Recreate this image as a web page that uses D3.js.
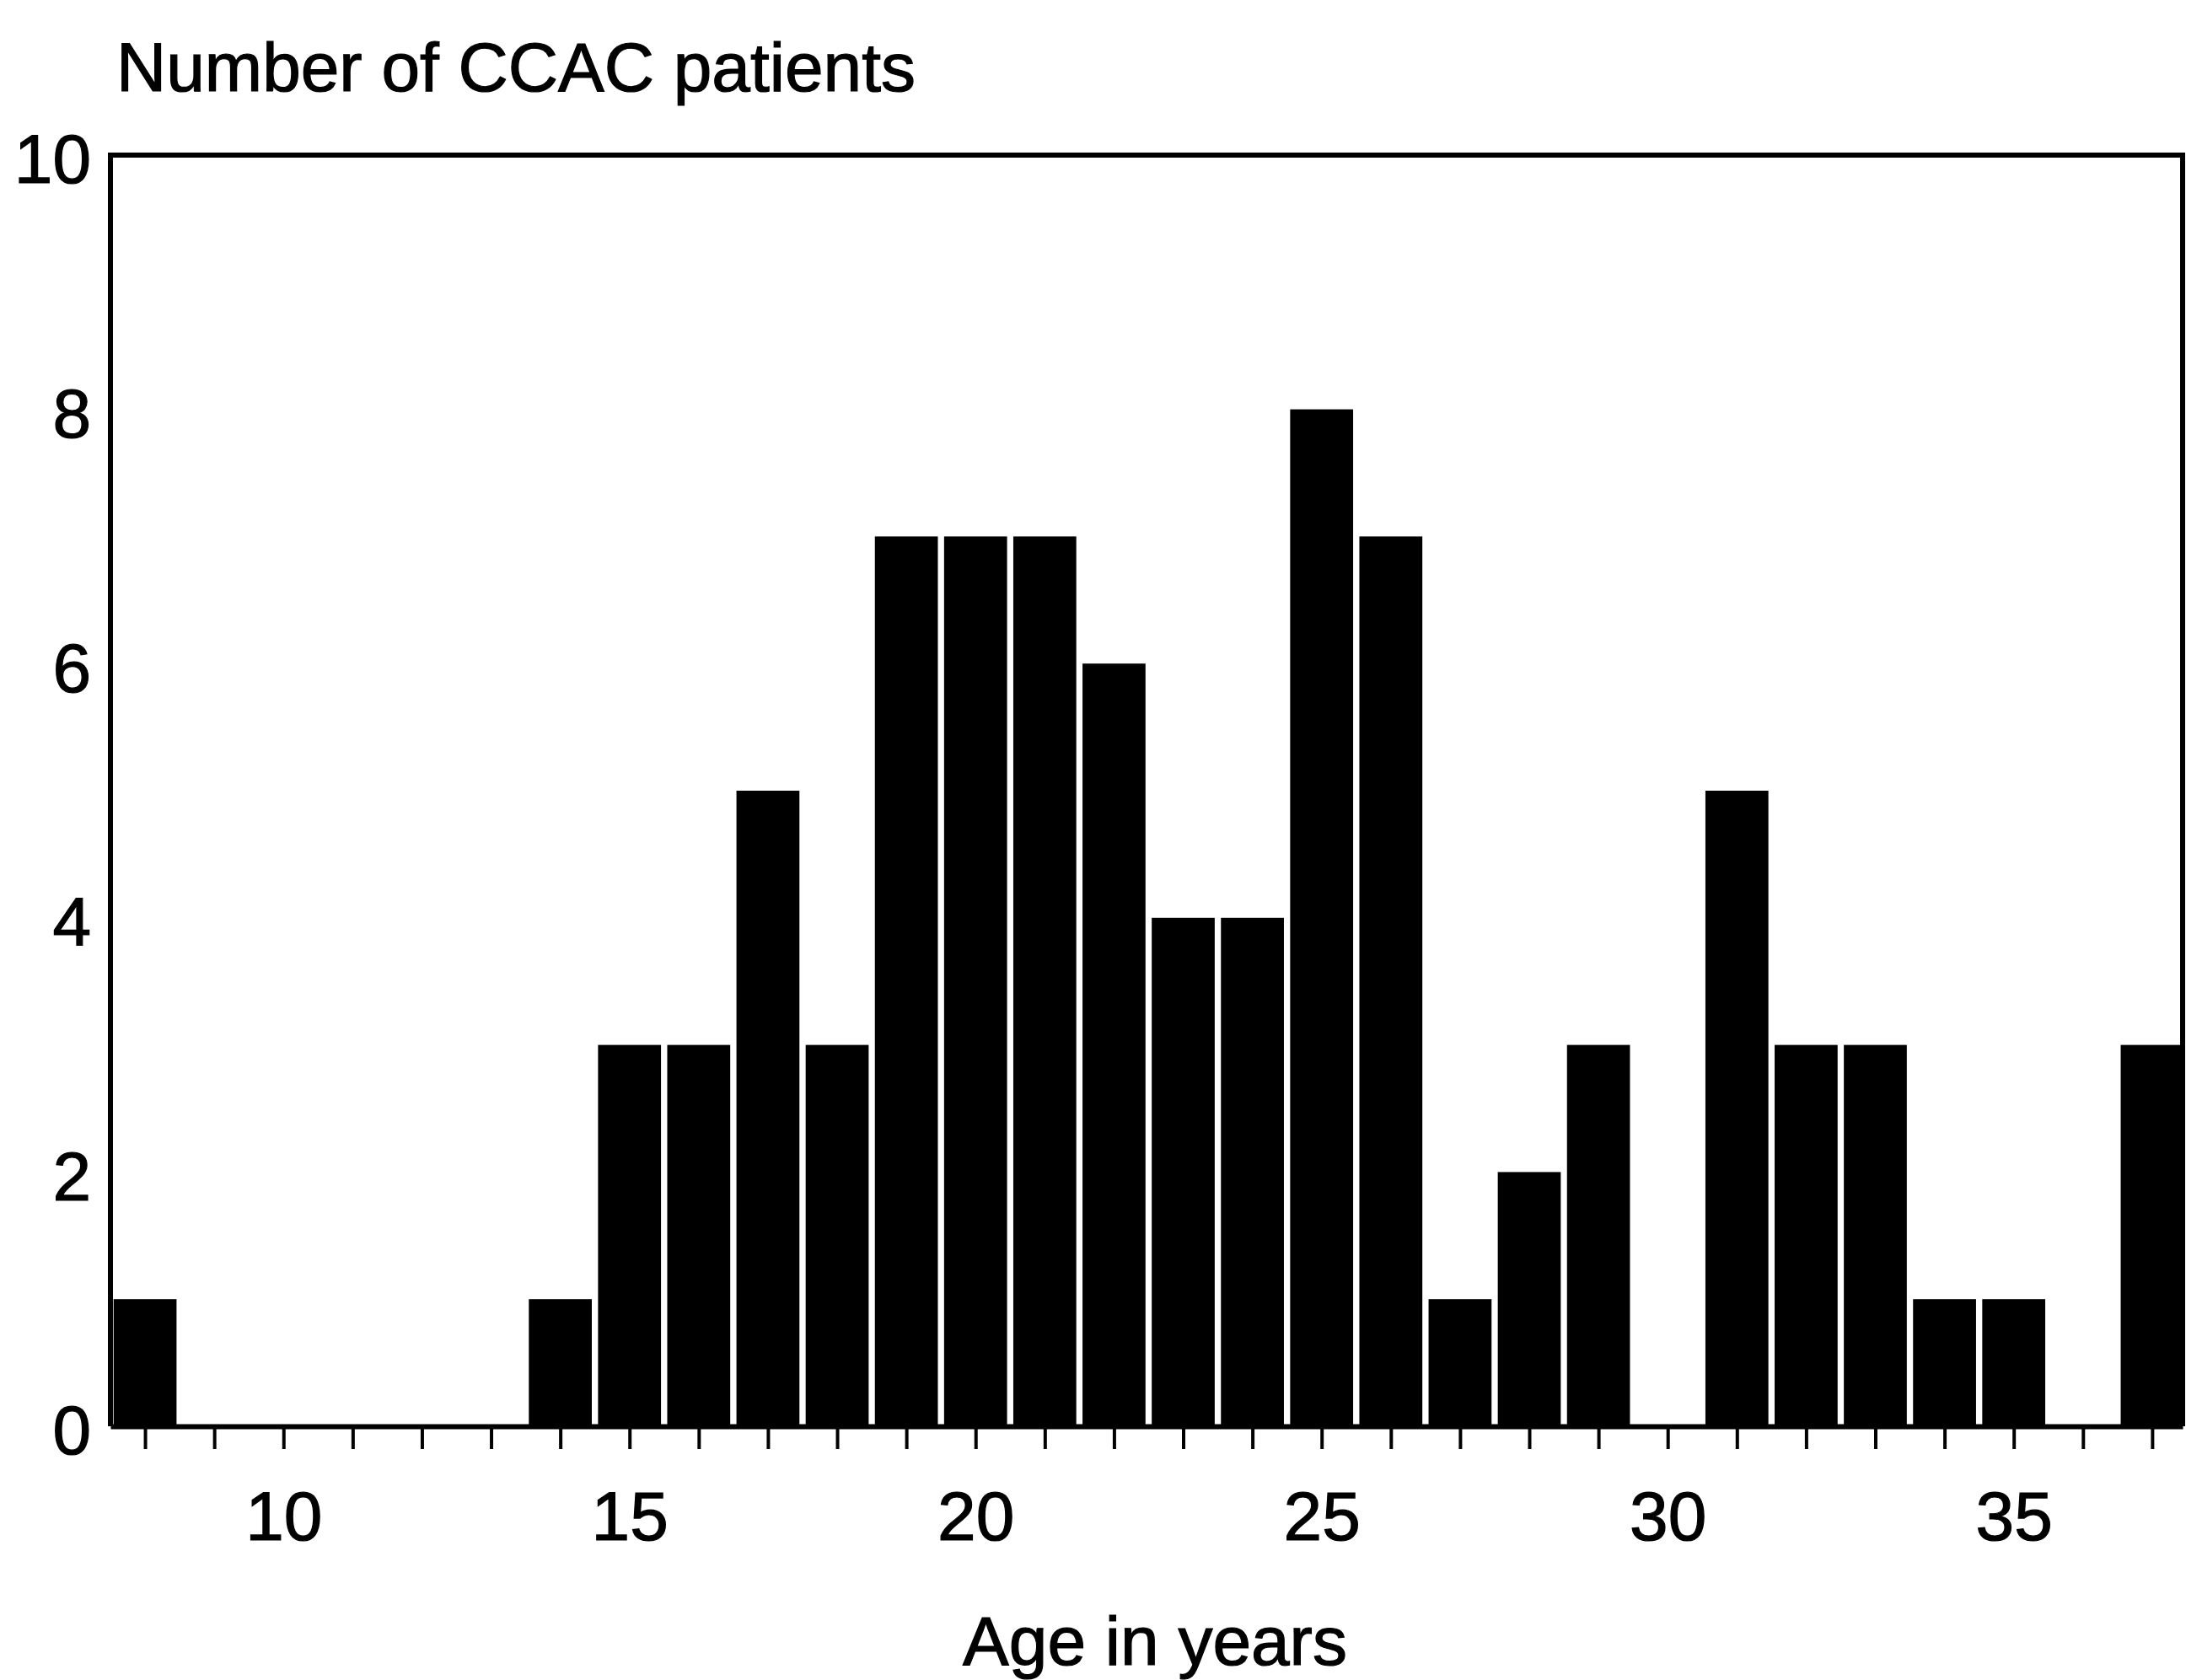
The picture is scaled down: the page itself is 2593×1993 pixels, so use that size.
<!DOCTYPE html>
<html>
<head>
<meta charset="utf-8">
<script src="https://cdn.jsdelivr.net/npm/d3@7"></script>
<style>
  html, body { margin: 0; padding: 0; background: #fff; }
  svg { display: block; }
  text { font-family: "Liberation Sans", Arial, Helvetica, sans-serif; fill: #000; stroke: #000; stroke-width: 1.2px; }
</style>
</head>
<body>
<script>
// ---- data ----
const ages   = [8, 9, 10, 11, 12, 13, 14, 15, 16, 17, 18, 19, 20, 21, 22,
                23, 24, 25, 26, 27, 28, 29, 30, 31, 32, 33, 34, 35, 36, 37];
const counts = [1, 0, 0, 0, 0, 0, 1, 3, 3, 5, 3, 7, 7, 7, 6,
                4, 4, 8, 7, 1, 2, 3, 0, 5, 3, 3, 1, 1, 0, 3];
const xLabelTicks = [10, 15, 20, 25, 30, 35];
const yTicks = [0, 2, 4, 6, 8, 10];
const yTitle = "Number of CCAC patients";
const xTitle = "Age in years";

(function () {
// ---- layout ----
const W = 2593, H = 1993;
const mLeft = 131, mRight = 2589, mTop = 184, mBottom = 1692;
const fontSize = 82;

const svg = d3.select("body").append("svg")
  .attr("width", W).attr("height", H);

const x = d3.scaleLinear().domain([7.5, 37.44]).range([mLeft, mRight]);
const y = d3.scaleLinear().domain([0, 10]).range([mBottom, mTop]);
const step = x(1) - x(0);
const barW = step * 0.91;

svg.append("defs").append("clipPath").attr("id", "plotclip")
  .append("rect").attr("x", mLeft).attr("y", mTop - 5)
  .attr("width", mRight - mLeft).attr("height", mBottom - mTop + 5);

// bars
svg.append("g").attr("clip-path", "url(#plotclip)")
  .selectAll("rect").data(ages.map((a, i) => ({age: a, n: counts[i]})).filter(d => d.n > 0))
  .join("rect")
  .attr("x", d => x(d.age) - barW / 2)
  .attr("width", barW)
  .attr("y", d => y(d.n))
  .attr("height", d => y(0) - y(d.n))
  .attr("fill", "#000");

// frame (top, left, right)
svg.append("path")
  .attr("d", `M${mLeft},${mBottom} L${mLeft},${mTop} L${mRight},${mTop} L${mRight},${mBottom}`)
  .attr("fill", "none").attr("stroke", "#000").attr("stroke-width", 6);

// x axis
const xAxis = d3.axisBottom(x)
  .tickValues(ages)
  .tickFormat(d => xLabelTicks.includes(d) ? d : "")
  .tickSize(27)
  .tickSizeOuter(0)
  .tickPadding(50);
const gx = svg.append("g").attr("transform", `translate(0,${mBottom})`).call(xAxis);
gx.select(".domain").attr("stroke", "#000").attr("stroke-width", 6);
gx.selectAll(".tick line").attr("stroke", "#000").attr("stroke-width", 4);
gx.selectAll(".tick text").attr("font-size", fontSize)
  .attr("font-family", "Liberation Sans, Arial, sans-serif").attr("fill", "#000");

// y axis (labels only)
const yAxis = d3.axisLeft(y).tickValues(yTicks).tickSize(0).tickPadding(23);
const gy = svg.append("g").attr("transform", `translate(${mLeft},0)`).call(yAxis);
gy.select(".domain").remove();
gy.selectAll(".tick text").attr("font-size", fontSize)
  .attr("font-family", "Liberation Sans, Arial, sans-serif").attr("fill", "#000")
  .attr("dy", "0.4em");

// titles
svg.append("text").attr("x", 138).attr("y", 108)
  .attr("font-size", fontSize).text(yTitle);
svg.append("text").attr("x", 1370).attr("y", 1975)
  .attr("text-anchor", "middle").attr("font-size", fontSize).text(xTitle);
})();
</script>
</body>
</html>
